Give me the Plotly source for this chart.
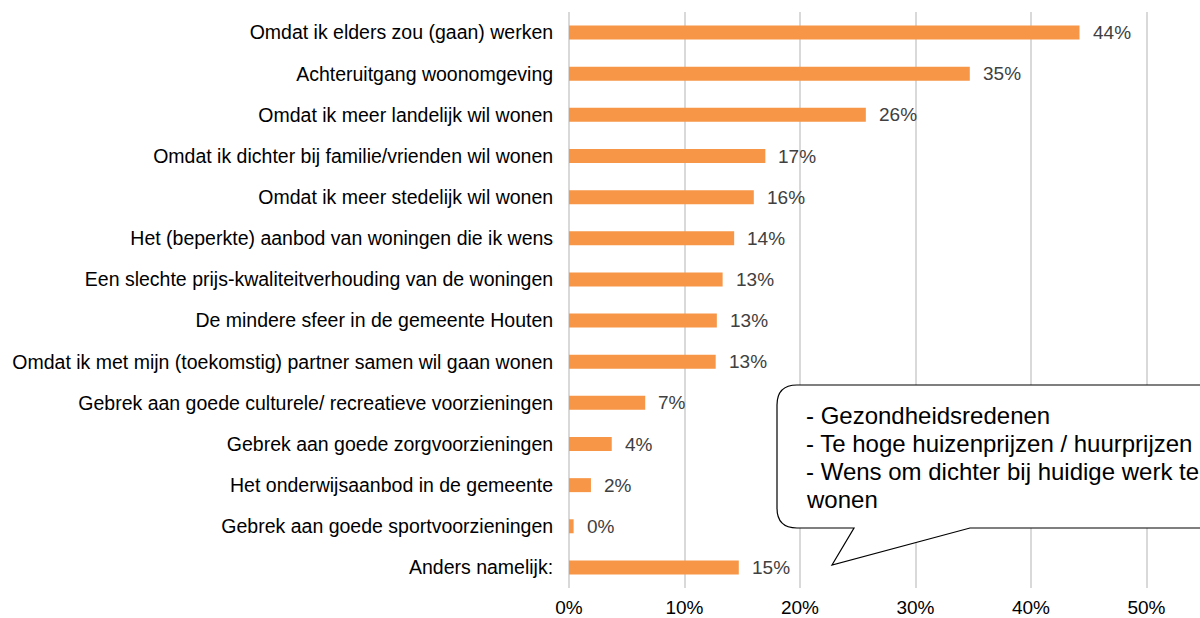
import plotly.graph_objects as go

categories = [
    "Omdat ik elders zou (gaan) werken",
    "Achteruitgang woonomgeving",
    "Omdat ik meer landelijk wil wonen",
    "Omdat ik dichter bij familie/vrienden wil wonen",
    "Omdat ik meer stedelijk wil wonen",
    "Het (beperkte) aanbod van woningen die ik wens",
    "Een slechte prijs-kwaliteitverhouding van de woningen",
    "De mindere sfeer in de gemeente Houten",
    "Omdat ik met mijn (toekomstig) partner samen wil gaan wonen",
    "Gebrek aan goede culturele/ recreatieve voorzieningen",
    "Gebrek aan goede zorgvoorzieningen",
    "Het onderwijsaanbod in de gemeente",
    "Gebrek aan goede sportvoorzieningen",
    "Anders namelijk:",
]
values = [0.442, 0.347, 0.257, 0.170, 0.160, 0.143, 0.133, 0.128, 0.127, 0.066, 0.037, 0.019, 0.004, 0.147]
value_labels = ["44%", "35%", "26%", "17%", "16%", "14%", "13%", "13%", "13%", "7%", "4%", "2%", "0%", "15%"]
tick_vals = [0, 0.1, 0.2, 0.3, 0.4, 0.5]
tick_text = ["0%", "10%", "20%", "30%", "40%", "50%"]
callout_lines = [
    "- Gezondheidsredenen",
    "- Te hoge huizenprijzen / huurprijzen",
    "- Wens om dichter bij huidige werk te",
    "wonen",
]

W, H = 1200, 618
ML, MR, MT = 569, 0, 12
MB = H - 588
PW, PH = W - ML - MR, H - MT - MB
FONT = "Liberation Sans, Arial, sans-serif"

fig = go.Figure()
fig.add_trace(go.Bar(
    y=categories, x=values, orientation="h",
    marker=dict(color="#F79646", line=dict(width=0)),
    hoverinfo="skip",
))

for c, v, t in zip(categories, values, value_labels):
    fig.add_annotation(x=v, y=c, xref="x", yref="y", text=t, showarrow=False,
                       xanchor="left", xshift=11,
                       font=dict(family=FONT, size=19, color="#404040"))

def px(xs):
    return (xs - ML) / PW

def py(ys):
    return (H - MB - ys) / PH

L, R, T, B, r = 777, 1215, 385, 528, 20
path = (f"M {px(L + r)} {py(T)} L {px(R)} {py(T)} L {px(R)} {py(B)} "
        f"L {px(970)} {py(B)} L {px(832)} {py(565)} L {px(854)} {py(B)} "
        f"L {px(L + r)} {py(B)} Q {px(L)} {py(B)} {px(L)} {py(B - r)} "
        f"L {px(L)} {py(T + r)} Q {px(L)} {py(T)} {px(L + r)} {py(T)} Z")
fig.add_shape(type="path", path=path, xref="paper", yref="paper",
              fillcolor="white", line=dict(color="black", width=1.2), layer="above")

line_y = [415, 443, 471, 499]
for txt, ly in zip(callout_lines, line_y):
    fig.add_annotation(x=px(804), y=py(ly), xref="paper", yref="paper", text=txt,
                       showarrow=False, xanchor="left", yanchor="middle", align="left",
                       font=dict(family=FONT, size=24, color="black"))

fig.update_layout(
    width=W, height=H,
    margin=dict(l=ML, r=MR, t=MT, b=MB, pad=0, autoexpand=False),
    paper_bgcolor="white", plot_bgcolor="white",
    showlegend=False, bargap=0.66,
    font=dict(family=FONT, size=19.5, color="black"),
    xaxis=dict(range=[0, PW / 1155], tickvals=tick_vals, ticktext=tick_text,
               showgrid=True, gridcolor="#D9D9D9", gridwidth=1.5,
               zeroline=True, zerolinecolor="#D9D9D9", zerolinewidth=1.5,
               showline=False, ticks="outside", ticklen=2, tickcolor="rgba(0,0,0,0)",
               tickfont=dict(size=19, color="black"), fixedrange=True, automargin=False),
    yaxis=dict(autorange="reversed", showgrid=False, zeroline=False, showline=False,
               ticks="outside", ticklen=11, tickcolor="rgba(0,0,0,0)",
               tickfont=dict(size=19.5, color="black"), fixedrange=True, automargin=False),
)

fig.write_html("out.html", config={"displayModeBar": False},
               post_script="document.body.style.margin='0';document.body.style.overflow='hidden';")
